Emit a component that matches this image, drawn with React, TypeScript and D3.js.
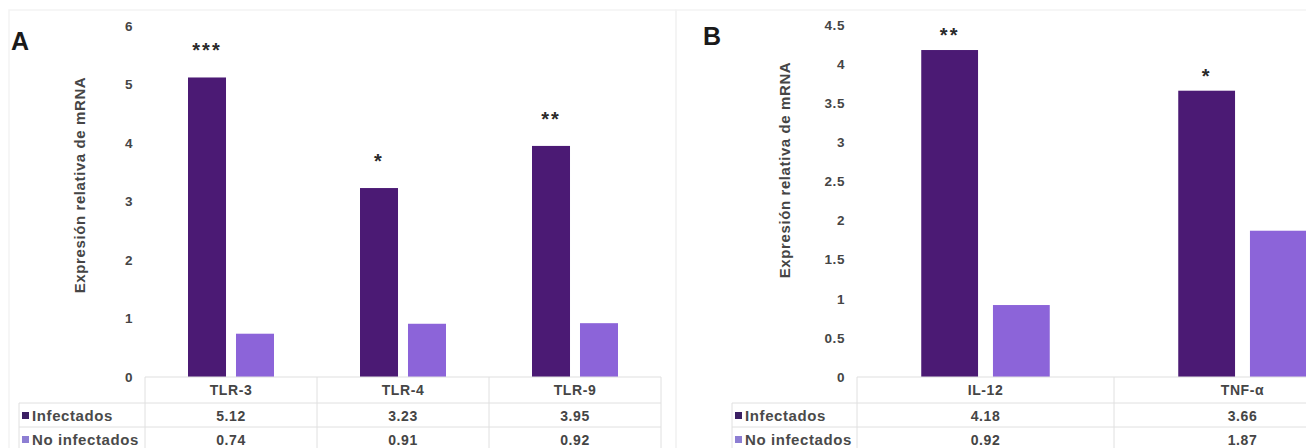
import React from "react";
import * as d3 from "d3";

const seriesNames = ["Infectados", "No infectados"];
const seriesColors = ["#4b1a74", "#8c64d9"];
const markerColors = ["#3b1f63", "#8d7ed3"];

const catsA = ["TLR-3", "TLR-4", "TLR-9"];
const infectadosA = [5.12, 3.23, 3.95];
const noInfectadosA = [0.74, 0.91, 0.92];
const starsA = ["***", "*", "**"];
const ticksA = [0, 1, 2, 3, 4, 5, 6];

const catsB = ["IL-12", "TNF-α"];
const infectadosB = [4.18, 3.66];
const noInfectadosB = [0.92, 1.87];
const starsB = ["**", "*"];
const ticksB = [0, 0.5, 1, 1.5, 2, 2.5, 3, 3.5, 4, 4.5];

const W = 1306;
const H = 448;
const font = "'Liberation Sans', Arial, sans-serif";
const txt = "#454545";
const grid = "#e0e0e0";

type PanelProps = {
  letter: string;
  letterX: number;
  letterY: number;
  cats: string[];
  values: number[][];
  stars: string[];
  ticks: number[];
  yMax: number;
  left: number;
  right: number;
  top: number;
  y0: number;
  titleX: number;
  titleY: number;
  legendX: number;
  starGap: number;
  frameX: number;
  frameW: number;
};

function Panel(p: PanelProps) {
  const x = d3.scaleBand<string>().domain(p.cats).range([p.left, p.right]).padding(0);
  const bw = x.bandwidth();
  const x1 = d3
    .scaleBand<string>()
    .domain(seriesNames)
    .range([bw * 0.25, bw * 0.75])
    .paddingInner(0.208)
    .paddingOuter(0);
  const y = d3.scaleLinear().domain([0, p.yMax]).range([p.y0, p.top]);

  const row1 = p.y0 + 26;
  const row2 = row1 + 24;
  const rowEnd = row2 + 24;

  return (
    <g>
      <rect x={p.frameX} y={10} width={p.frameW} height={H} fill="none" stroke="#f3f3f3" strokeWidth={1.5} />
      <text x={p.letterX} y={p.letterY} fontFamily={font} fontWeight="bold" fontSize={25} fill="#1a1a1a">
        {p.letter}
      </text>

      {/* y ticks */}
      {p.ticks.map((t) => (
        <text
          key={t}
          x={p.left - 12}
          y={y(t)}
          dy="0.35em"
          textAnchor="end"
          fontFamily={font}
          fontWeight="bold"
          fontSize={13.5}
          letterSpacing={0.6}
          fill={txt}
        >
          {String(t)}
        </text>
      ))}
      <text
        transform={`translate(${p.titleX},${p.titleY}) rotate(-90)`}
        textAnchor="middle"
        dy="0.35em"
        fontFamily={font}
        fontWeight="bold"
        fontSize={15}
        letterSpacing={0.6}
        fill={txt}
      >
        Expresión relativa de mRNA
      </text>

      {/* bars */}
      {p.cats.map((c, i) => (
        <g key={c} transform={`translate(${x(c)},0)`}>
          {seriesNames.map((s, k) => (
            <rect
              key={s}
              x={x1(s)}
              y={y(p.values[k][i])}
              width={x1.bandwidth()}
              height={p.y0 - y(p.values[k][i])}
              fill={seriesColors[k]}
            />
          ))}
          <text
            x={(x1(seriesNames[0]) as number) + x1.bandwidth() / 2}
            y={y(p.values[0][i]) - p.starGap}
            textAnchor="middle"
            fontFamily={font}
            fontWeight="bold"
            fontSize={20}
            letterSpacing={2}
            fill="#2a2a2a"
          >
            {p.stars[i]}
          </text>
        </g>
      ))}

      {/* data table */}
      <line x1={p.left} x2={p.right} y1={p.y0} y2={p.y0} stroke={grid} strokeWidth={1.2} />
      <line x1={p.legendX - 3} x2={p.right} y1={row1} y2={row1} stroke={grid} />
      <line x1={p.legendX - 3} x2={p.right} y1={row2} y2={row2} stroke={grid} />
      <line x1={p.legendX - 3} x2={p.right} y1={rowEnd} y2={rowEnd} stroke={grid} />
      <line x1={p.legendX - 3} x2={p.legendX - 3} y1={row1} y2={H} stroke={grid} />
      {p.cats.map((c) => (
        <line key={c} x1={x(c)} x2={x(c)} y1={p.y0} y2={H} stroke={grid} />
      ))}
      <line x1={p.right} x2={p.right} y1={p.y0} y2={H} stroke={grid} />
      {p.cats.map((c, i) => (
        <g
          key={c}
          fontFamily={font}
          fontWeight="bold"
          fontSize={14}
          letterSpacing={0.6}
          fill={txt}
          textAnchor="middle"
        >
          <text x={(x(c) as number) + bw / 2} y={p.y0 + 13} dy="0.35em">
            {c}
          </text>
          <text x={(x(c) as number) + bw / 2} y={row1 + 13} dy="0.35em">
            {p.values[0][i].toFixed(2)}
          </text>
          <text x={(x(c) as number) + bw / 2} y={row2 + 13} dy="0.35em">
            {p.values[1][i].toFixed(2)}
          </text>
        </g>
      ))}
      {seriesNames.map((s, k) => (
        <g key={s}>
          <rect x={p.legendX} y={(k === 0 ? row1 : row2) + 9} width={7} height={7} fill={markerColors[k]} />
          <text
            x={p.legendX + 10}
            y={(k === 0 ? row1 : row2) + 13}
            dy="0.35em"
            fontFamily={font}
            fontWeight="bold"
            fontSize={15}
            letterSpacing={0.6}
            fill="#4a4a4a"
          >
            {s}
          </text>
        </g>
      ))}
    </g>
  );
}

export default function App() {
  return (
    <svg
      width={W}
      height={H}
      viewBox={`0 0 ${W} ${H}`}
      style={{ position: "absolute", left: 0, top: 0, background: "#fff" }}
    >
      <Panel
        letter="A"
        letterX={11}
        letterY={50}
        cats={catsA}
        values={[infectadosA, noInfectadosA]}
        stars={starsA}
        ticks={ticksA}
        yMax={6}
        left={145}
        right={661}
        top={26}
        y0={377}
        titleX={80}
        titleY={185}
        legendX={22}
        starGap={20}
        frameX={9}
        frameW={667}
      />
      <Panel
        letter="B"
        letterX={703}
        letterY={45}
        cats={catsB}
        values={[infectadosB, noInfectadosB]}
        stars={starsB}
        ticks={ticksB}
        yMax={4.5}
        left={857}
        right={1371}
        top={25}
        y0={377}
        titleX={785}
        titleY={170}
        legendX={735}
        starGap={8}
        frameX={676}
        frameW={700}
      />
    </svg>
  );
}
